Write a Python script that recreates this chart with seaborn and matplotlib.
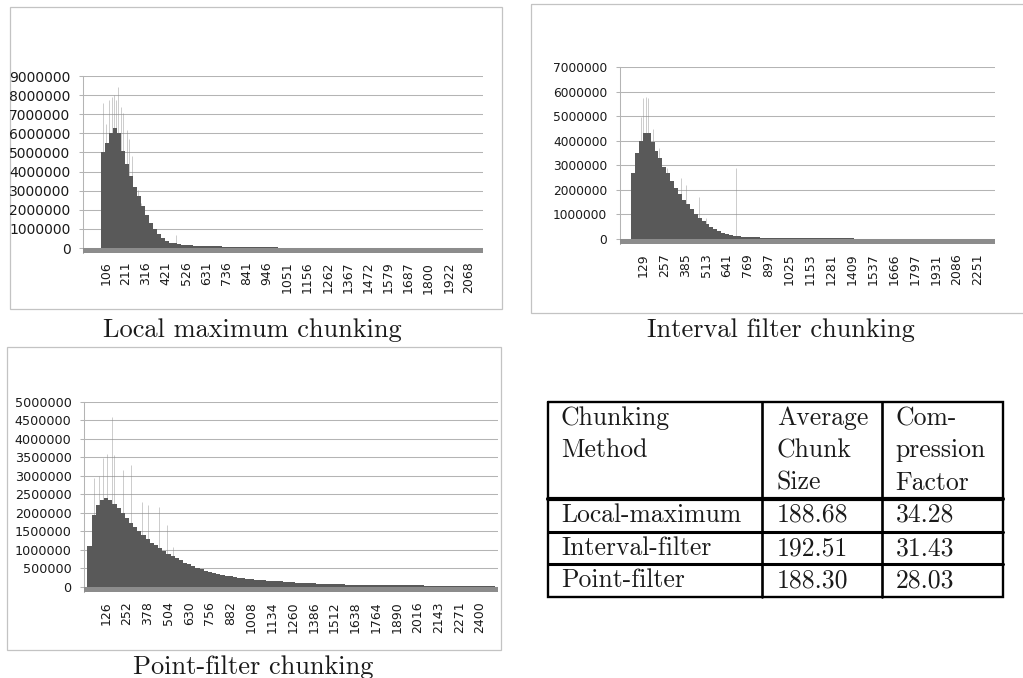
import matplotlib
matplotlib.use("Agg")
import matplotlib.pyplot as plt
from matplotlib.patches import Rectangle
import pandas as pd
import seaborn as sns

# ---------------- data ----------------
# Local maximum chunking (counts in millions, binned over category index)
lm_first_bin = 90
lm_bin_step = 21
lm_counts_m = [5.0, 5.5, 6.0, 6.3, 6.0, 5.1, 4.4, 3.75, 3.2, 2.7,
               2.2, 1.73, 1.33, 0.98, 0.72, 0.50, 0.36, 0.28, 0.24, 0.20,
               0.18, 0.16, 0.145, 0.13, 0.12, 0.11, 0.10, 0.09, 0.085, 0.08,
               0.075, 0.07, 0.065, 0.06, 0.055, 0.05, 0.047, 0.044, 0.041, 0.038,
               0.035, 0.033, 0.031, 0.029, 0.027, 0.025, 0.024, 0.023, 0.022, 0.021,
               0.02, 0.019, 0.018, 0.017, 0.016, 0.015, 0.015, 0.014, 0.014, 0.013,
               0.013, 0.012, 0.012, 0.011, 0.011, 0.010, 0.010, 0.010, 0.009, 0.009,
               0.009, 0.008, 0.008, 0.008, 0.008, 0.007, 0.007, 0.007, 0.007, 0.007,
               0.006, 0.006, 0.006, 0.006, 0.006, 0.006, 0.005, 0.005, 0.005, 0.005,
               0.005, 0.005, 0.005, 0.005]
lm_spike_idx = [94, 108, 125, 139, 149, 160, 172, 184, 198, 215, 229, 241, 276, 288, 472]
lm_spike_m = [7.6, 6.5, 7.75, 7.9, 8.0, 7.75, 8.4, 7.4, 7.05, 6.2, 5.7, 4.8, 3.05, 2.35, 0.68]
lm_tick_first, lm_tick_step = 106, 105
lm_xlabels = ["106", "211", "316", "421", "526", "631", "736", "841", "946", "1051",
              "1156", "1262", "1367", "1472", "1579", "1687", "1800", "1922", "2068"]
lm_yticks = [0, 1000000, 2000000, 3000000, 4000000, 5000000, 6000000, 7000000, 8000000, 9000000]

# Interval filter chunking
if_first_bin = 66
if_bin_step = 24
if_counts_m = [2.7, 3.5, 4.0, 4.3, 4.3, 3.95, 3.6, 3.28, 2.94, 2.67,
               2.35, 2.08, 1.82, 1.6, 1.4, 1.21, 1.02, 0.86, 0.72, 0.58,
               0.48, 0.38, 0.30, 0.23, 0.18, 0.14, 0.11, 0.095, 0.085, 0.075,
               0.068, 0.06, 0.054, 0.048, 0.043, 0.038, 0.034, 0.030, 0.027, 0.024,
               0.022, 0.020, 0.018, 0.017, 0.016, 0.015, 0.014, 0.013, 0.012, 0.011,
               0.010, 0.010, 0.009, 0.009, 0.008, 0.008, 0.008, 0.007, 0.007, 0.007,
               0.006, 0.006, 0.006, 0.006, 0.005, 0.005, 0.005, 0.005, 0.005, 0.004,
               0.004, 0.004, 0.004, 0.004, 0.004, 0.003, 0.003, 0.003, 0.003, 0.003,
               0.003, 0.003, 0.003, 0.002, 0.002, 0.002, 0.002, 0.002, 0.002, 0.002,
               0.002, 0.002]
if_spike_idx = [113, 129, 146, 160, 190, 227, 272, 358, 390, 468, 513, 695]
if_spike_m = [4.98, 5.73, 5.8, 5.73, 4.5, 3.7, 2.87, 2.46, 2.19, 1.71, 0.83, 2.87]
if_tick_first, if_tick_step = 129, 128
if_xlabels = ["129", "257", "385", "513", "641", "769", "897", "1025", "1153", "1281",
              "1409", "1537", "1666", "1797", "1931", "2086", "2251"]
if_yticks = [0, 1000000, 2000000, 3000000, 4000000, 5000000, 6000000, 7000000]

# Point-filter chunking
pf_first_bin = 26
pf_bin_step = 25.2
pf_counts_m = [1.1, 1.95, 2.2, 2.35, 2.4, 2.35, 2.25, 2.12, 2.0, 1.87,
               1.74, 1.62, 1.5, 1.4, 1.3, 1.2, 1.12, 1.04, 0.97, 0.9,
               0.83, 0.77, 0.72, 0.66, 0.61, 0.56, 0.52, 0.48, 0.44, 0.41,
               0.38, 0.35, 0.33, 0.31, 0.29, 0.27, 0.25, 0.24, 0.22, 0.21,
               0.20, 0.19, 0.18, 0.175, 0.17, 0.16, 0.15, 0.14, 0.13, 0.125,
               0.12, 0.115, 0.11, 0.10, 0.095, 0.09, 0.085, 0.08, 0.078, 0.075,
               0.072, 0.07, 0.067, 0.064, 0.062, 0.06, 0.058, 0.056, 0.055, 0.053,
               0.052, 0.05, 0.049, 0.048, 0.047, 0.046, 0.045, 0.044, 0.043, 0.042,
               0.041, 0.040, 0.039, 0.038, 0.037, 0.036, 0.036, 0.035, 0.034, 0.034,
               0.033, 0.033, 0.032, 0.032, 0.031, 0.031, 0.030, 0.030]
pf_spike_idx = [53, 85, 106, 134, 164, 176, 227, 276, 342, 383, 449, 498, 534]
pf_spike_m = [2.93, 3.0, 3.47, 3.6, 4.6, 3.56, 3.16, 3.3, 2.3, 2.2, 2.17, 1.67, 1.09]
pf_tick_first, pf_tick_step = 126, 126
pf_xlabels = ["126", "252", "378", "504", "630", "756", "882", "1008", "1134", "1260",
              "1386", "1512", "1638", "1764", "1890", "2016", "2143", "2271", "2400"]
pf_yticks = [0, 500000, 1000000, 1500000, 2000000, 2500000, 3000000, 3500000,
             4000000, 4500000, 5000000]

# Summary table
table_header = [["Chunking", "Method"], ["Average", "Chunk", "Size"], ["Com-", "pression", "Factor"]]
table_methods = ["Local-maximum", "Interval-filter", "Point-filter"]
table_avg_size = ["188.68", "192.51", "188.30"]
table_compression = ["34.28", "31.43", "28.03"]

captions = ["Local maximum chunking", "Interval filter chunking", "Point-filter chunking"]

# ---------------- style ----------------
sns.set_theme(style="white")
plt.rcParams["font.family"] = ["DejaVu Sans"]
plt.rcParams["axes.unicode_minus"] = False

BAR = "#595959"
BAND = "#8c8c8c"
GRID = "#b4b4b4"
FRAME = "#c3c3c3"
TXT = "#1a1a1a"
W, H = 1023, 678

fig = plt.figure(figsize=(W / 100, H / 100), dpi=100)
fig.patch.set_facecolor("white")

ov = fig.add_axes([0, 0, 1, 1], zorder=0)
ov.set_xlim(0, W)
ov.set_ylim(H, 0)
ov.axis("off")


def px_axes(left, top, right, bottom):
    return fig.add_axes([left / W, 1 - bottom / H, (right - left) / W, (bottom - top) / H], zorder=1)


def draw_hist(ax, first_bin, step, counts_m, spike_idx, spike_m, tick_first, tick_step,
              xlabels, yticks, ybottom, xlim, ysize):
    centers = [first_bin + step * i for i in range(len(counts_m))]
    df = pd.DataFrame({"idx": centers, "count": [c * 1e6 for c in counts_m]})
    ax.set_axisbelow(True)
    ax.vlines(spike_idx, 0, [s * 1e6 for s in spike_m], colors="#8a8a8a",
              linewidth=0.6, alpha=0.5, zorder=1.5)
    sns.barplot(data=df, x="idx", y="count", native_scale=True, width=1.0,
                color=BAR, saturation=1, linewidth=0, antialiased=False,
                errorbar=None, ax=ax, zorder=2)
    ax.axhspan(ybottom, 0, color=BAND, lw=0, zorder=3)
    ax.set_xlim(*xlim)
    ax.set_ylim(ybottom, yticks[-1])
    ax.set_yticks(yticks)
    ax.set_yticklabels([str(v) for v in yticks])
    ticks = [tick_first + tick_step * i for i in range(len(xlabels))]
    ax.set_xticks(ticks)
    ax.set_xticklabels(xlabels, rotation=90)
    ax.yaxis.grid(True, color=GRID, linewidth=0.75)
    ax.xaxis.grid(False)
    for s in ["top", "right", "bottom"]:
        ax.spines[s].set_visible(False)
    ax.spines["left"].set_color(GRID)
    ax.spines["left"].set_linewidth(0.75)
    ax.tick_params(axis="y", length=3, width=0.75, color=GRID, labelsize=ysize,
                   pad=6.2, labelcolor=TXT, left=True)
    ax.tick_params(axis="x", length=0, pad=6.5, labelsize=9, labelcolor=TXT)
    ax.set_xlabel("")
    ax.set_ylabel("")
    ax.set_facecolor("white")


ax1 = px_axes(83.3, 76, 483.3, 252.7)
draw_hist(ax1, lm_first_bin, lm_bin_step, lm_counts_m, lm_spike_idx, lm_spike_m,
          lm_tick_first, lm_tick_step, lm_xlabels, lm_yticks, -245000, (-10.5, 2070.6), 10)

ax2 = px_axes(620, 67.3, 995, 244)
draw_hist(ax2, if_first_bin, if_bin_step, if_counts_m, if_spike_idx, if_spike_m,
          if_tick_first, if_tick_step, if_xlabels, if_yticks, -217000, (-13.7, 2282.7), 8.8)

ax3 = px_axes(84.3, 401.7, 497.7, 592)
draw_hist(ax3, pf_first_bin, pf_bin_step, pf_counts_m, pf_spike_idx, pf_spike_m,
          pf_tick_first, pf_tick_step, pf_xlabels, pf_yticks, -135000, (-5.6, 2501), 9.2)

# chart frames
for (x0, y0, x1, y1) in [(10, 7, 502, 309), (531, 3.5, 1030, 313), (7, 347, 501, 650)]:
    ov.add_patch(Rectangle((x0, y0), x1 - x0, y1 - y0, fill=False, ec=FRAME, lw=0.9))

# captions
SERIF = ["cmr10", "DejaVu Serif"]
cap_pos = [(252, 337), (781, 337), (253, 674)]
for text, (cx, cy) in zip(captions, cap_pos):
    ov.text(cx, cy, text, ha="center", va="baseline", fontsize=19, family=SERIF, color=TXT)

# table
TL, TR, TT, TB = 547.5, 1002.5, 402, 597
col_x = [761.7, 882.3]
ov.plot([TL, TR, TR, TL, TL], [TT, TT, TB, TB, TT], color="black", lw=1.7, solid_joinstyle="miter")
for cx in col_x:
    ov.plot([cx, cx], [TT, TB], color="black", lw=1.9)
ov.plot([TL, TR], [499, 499], color="black", lw=3.0)
ov.plot([TL, TR], [531.5, 531.5], color="black", lw=2.2)
ov.plot([TL, TR], [563.5, 563.5], color="black", lw=2.2)

text_x = [561, 776.7, 895.7]
header_base = [425, 457, 490]
row_base = [522, 555, 587]
for ci, lines in enumerate(table_header):
    for li, line in enumerate(lines):
        ov.text(text_x[ci], header_base[li], line, ha="left", va="baseline",
                fontsize=18.5, family=SERIF, color=TXT)
for ri in range(len(table_methods)):
    for ci, val in enumerate([table_methods[ri], table_avg_size[ri], table_compression[ri]]):
        ov.text(text_x[ci], row_base[ri], val, ha="left", va="baseline",
                fontsize=18.5, family=SERIF, color=TXT)

fig.savefig("out.png", dpi=100)
